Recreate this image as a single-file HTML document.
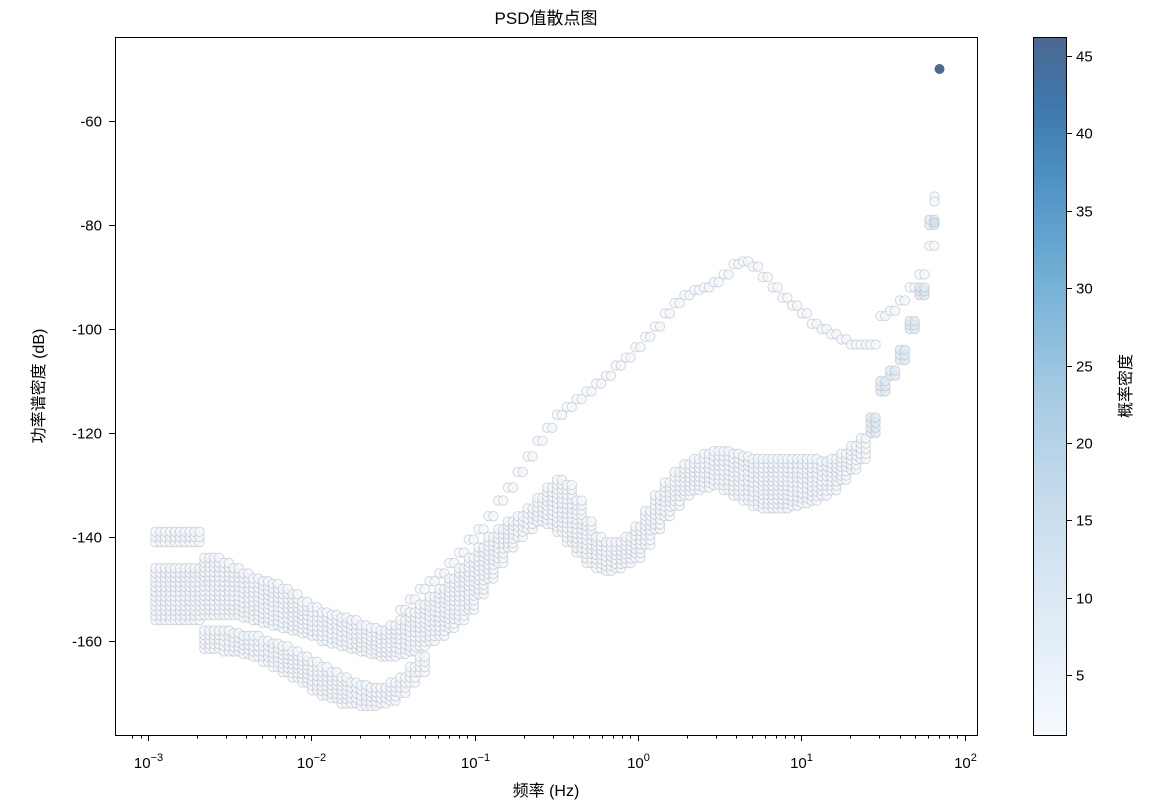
<!DOCTYPE html>
<html><head><meta charset="utf-8"><style>
body{margin:0;background:#fff;}
svg text{font-family:"Liberation Sans","Noto Sans CJK SC",sans-serif;fill:#000;}
</style></head><body>
<svg id="chart" width="1152" height="806" viewBox="0 0 1152 806" xmlns="http://www.w3.org/2000/svg">
<defs>
<linearGradient id="cbg" x1="0" y1="1" x2="0" y2="0">
<stop offset="0" stop-color="#f6fafe"/>
<stop offset="0.2" stop-color="#dbe8f4"/>
<stop offset="0.35" stop-color="#c4daec"/>
<stop offset="0.5" stop-color="#a3c9e2"/>
<stop offset="0.65" stop-color="#74b0d6"/>
<stop offset="0.8" stop-color="#4d91c4"/>
<stop offset="0.9" stop-color="#3f78ae"/>
<stop offset="1" stop-color="#4a6890"/>
</linearGradient>
</defs>
<text x="546" y="24" font-size="17" text-anchor="middle">PSD值散点图</text>
<g id="points"></g>
<rect x="115.5" y="37.5" width="862" height="698" fill="none" stroke="#000" stroke-width="1"/>
<g id="axes"></g>
<text x="546" y="796" font-size="16" text-anchor="middle">频率 (Hz)</text>
<text transform="translate(44,386) rotate(-90)" font-size="16" text-anchor="middle">功率谱密度 (dB)</text>
<rect x="1033.5" y="37.5" width="33" height="698" fill="url(#cbg)" stroke="#000" stroke-width="1"/>
<g id="cbaxis"></g>
<text transform="translate(1131,386) rotate(-90)" font-size="16" text-anchor="middle">概率密度</text>
</svg>
<script>
const logFreq=[-2.94,-2.88,-2.82,-2.76,-2.70,-2.64,-2.58,-2.52,-2.46,-2.40,-2.34,-2.28,-2.22,-2.16,-2.10,-2.04,-1.98,-1.92,-1.86,-1.80,-1.74,-1.68,-1.62,-1.56,-1.50,-1.44,-1.38,-1.32,-1.26,-1.20,-1.14,-1.08,-1.02,-0.96,-0.90,-0.84,-0.78,-0.72,-0.66,-0.60,-0.54,-0.48,-0.42,-0.36,-0.30,-0.24,-0.18,-0.12,-0.06,0.00,0.06,0.12,0.18,0.24,0.30,0.36,0.42,0.48,0.54,0.60,0.66,0.72,0.78,0.84,0.90,0.96,1.02,1.08,1.14,1.20,1.26,1.32,1.38,1.44,1.50,1.56,1.62,1.68,1.74,1.80];
const bandTop=[-146,-146,-146,-146,-146,-144,-144,-145,-146,-147,-148,-148.5,-149,-150,-151,-152.5,-153.5,-154.5,-155,-155.5,-156,-157,-157.5,-158,-157,-156,-154.5,-153,-151.5,-150,-148,-146,-144,-142,-140,-138.5,-137,-136,-134.5,-132.5,-130.5,-129,-130,-133,-137,-140,-141,-141,-140,-138,-135,-132,-129.5,-127.5,-126,-125,-124,-123.5,-123.5,-124,-124.5,-125,-125,-125,-125,-125,-125,-125,-125.5,-125,-124,-122.5,-121,-117,-110,-108,-104,-98.5,-92,-79];
const bandBottom=[-156,-156,-156,-156,-156,-155,-155,-155,-155,-155.5,-156,-156.5,-157,-157.5,-158,-158.5,-159,-160,-160.5,-161,-161.5,-162,-162.5,-163,-163,-162.5,-162,-161,-160,-159,-157.5,-156,-154,-151,-148,-145,-142,-140,-138.5,-137,-137.5,-139,-141,-143,-145,-146,-146.5,-146,-145,-144,-141.5,-138.5,-136,-134,-132,-131,-130.5,-130,-131,-132,-133,-134,-134.5,-134.5,-134.5,-134,-133.5,-133,-132,-131,-129,-127,-125,-120,-112,-109,-106,-100,-93.5,-80];
const extraTop=[-139,-139,-139,-139,-139];
const lowerTop=[null,null,null,null,null,-158,-158,-158,-158.5,-159,-159,-160,-160.5,-161,-162,-163,-164,-165,-166,-167,-168,-168.5,-169,-169,-168,-167,-165,-163];
const lowerBottom=[null,null,null,null,null,-161.5,-161.5,-162,-162,-162.5,-163,-164,-165,-166,-167,-168,-169.5,-170.5,-171,-172,-172,-172.5,-172.5,-172,-171.5,-170,-168,-166];
const upperTrace=[null,null,null,null,null,null,null,null,null,null,null,null,null,null,null,null,null,null,null,null,null,null,null,null,null,-154,-152,-150,-148.5,-147,-145,-143,-140.5,-138.5,-136,-133,-130.5,-127.5,-124.5,-121.5,-119,-116.5,-115,-113.5,-112,-110.5,-109,-107,-105.5,-103.5,-101.5,-99.5,-97,-95,-93.5,-92.5,-92,-91,-89.5,-87.5,-87,-88,-90,-92,-94,-95.5,-97,-99,-100,-101,-102,-103,-103,-103,-97.5,-96.5,-94.5,-92,-89.5,-84];
const extraLogFreq=[1.816,1.816,1.816,1.847];
const extraDb=[-74.5,-75.5,-79.5,-50];
const extraDensity=[3,3,14,46];

const X0=115,X1=977;
function xs(lf){return 148+(lf+3)*163.3;}
function ys(db){return 121+(-60-db)*5.2;}
function cbY(v){return 675-(v-5)*15.475;}
function colorFor(d){
  const stops=[[1,[246,250,254]],[10,[219,232,244]],[17,[196,218,236]],[24,[163,201,226]],[31,[116,176,214]],[38,[77,145,196]],[42,[63,120,174]],[46.2,[74,104,144]]];
  for(let i=1;i<stops.length;i++){if(d<=stops[i][0]){const a=stops[i-1],b=stops[i];const t=(d-a[0])/(b[0]-a[0]);return 'rgb('+a[1].map((c,j)=>Math.round(c+(b[1][j]-c)*t)).join(',')+')';}}
  return 'rgb(74,104,144)';
}
const NS='http://www.w3.org/2000/svg';
const pg=document.getElementById('points');
function dot(lf,db,d,name,dx){
  const c=document.createElementNS(NS,'circle');
  c.setAttribute('cx',(xs(lf)+(dx||0)).toFixed(1));c.setAttribute('cy',ys(db).toFixed(1));c.setAttribute('r',d>40?5:4.7);
  c.setAttribute('fill',colorFor(d));
  c.setAttribute('fill-opacity',d>40?'1':'0.75');
  c.setAttribute('stroke',d>40?'none':'rgba(175,180,186,0.5)');c.setAttribute('stroke-width','1');
  
  
  pg.appendChild(c);
}
function column(lf,top,bot,name,dens,dx){
  if(top==null||bot==null)return;
  const n=Math.max(1,Math.round((top-bot)/0.9));
  for(let i=0;i<=n;i++){dot(lf,bot+(top-bot)*i/n,dens,name,dx);}
}
for(let i=0;i<logFreq.length;i++){
  const dens=logFreq[i]>1.4?9:2;
  for(const dx of [-2.5,2.5]){
    column(logFreq[i],bandTop[i],bandBottom[i],'band-point',dens,dx);
    if(i<extraTop.length) column(logFreq[i],extraTop[i],extraTop[i]-2,'upper-cluster-point',2,dx);
    if(lowerTop[i]!=null) column(logFreq[i],lowerTop[i],lowerBottom[i],'lower-trace-point',2,dx);
    if(upperTrace[i]!=null){dot(logFreq[i],upperTrace[i],2,'upper-trace-point',dx);}
  }
}
for(let i=0;i<extraLogFreq.length;i++){dot(extraLogFreq[i],extraDb[i],extraDensity[i],'high-freq-point',0);}

const ax=document.getElementById('axes');
function line(x1,y1,x2,y2,g,name){const l=document.createElementNS(NS,'line');l.setAttribute('x1',x1);l.setAttribute('y1',y1);l.setAttribute('x2',x2);l.setAttribute('y2',y2);l.setAttribute('stroke','#000');l.setAttribute('stroke-width','1');


g.appendChild(l);}
function text(x,y,s,anchor,g,name,size){const t=document.createElementNS(NS,'text');t.setAttribute('x',x);t.setAttribute('y',y);t.setAttribute('font-size',size||15);t.setAttribute('text-anchor',anchor);t.innerHTML=s;


g.appendChild(t);return t;}
const xDecades=[-3,-2,-1,0,1,2];
for(const d of xDecades){
  const x=Math.round(xs(d))+0.5;
  line(x,735,x,741,ax,'x-major-tick');
  text(x,768,'10<tspan font-size="11" dy="-7">'+(d<0?'\u2212'+(-d):d)+'</tspan>','middle',ax,'x-tick-label',15);
  for(let m=2;m<10;m++){const lf=d+Math.log10(m);const xm=Math.round(xs(lf))+0.5;if(xm<X1&&xm>X0)line(xm,735,xm,738.5,ax,'x-minor-tick');}
}
{const xm=Math.round(xs(-3+Math.log10(0.8)))+0.5;line(xm,735,xm,738.5,ax,'x-minor-tick');const xm2=Math.round(xs(-3+Math.log10(0.9)))+0.5;line(xm2,735,xm2,738.5,ax,'x-minor-tick');}
const yTicks=[-60,-80,-100,-120,-140,-160];
for(const v of yTicks){const y=Math.round(ys(v))+0.5;line(109,y,115,y,ax,'y-tick');text(102,y+5,'-'+(-v),'end',ax,'y-tick-label',15);}
const cb=document.getElementById('cbaxis');
const cbTicks=[5,10,15,20,25,30,35,40,45];
for(const v of cbTicks){const y=Math.round(cbY(v))+0.5;line(1066,y,1072,y,cb,'colorbar-tick');text(1076,y+5,String(v),'start',cb,'colorbar-tick-label',15);}
</script>
</body></html>
